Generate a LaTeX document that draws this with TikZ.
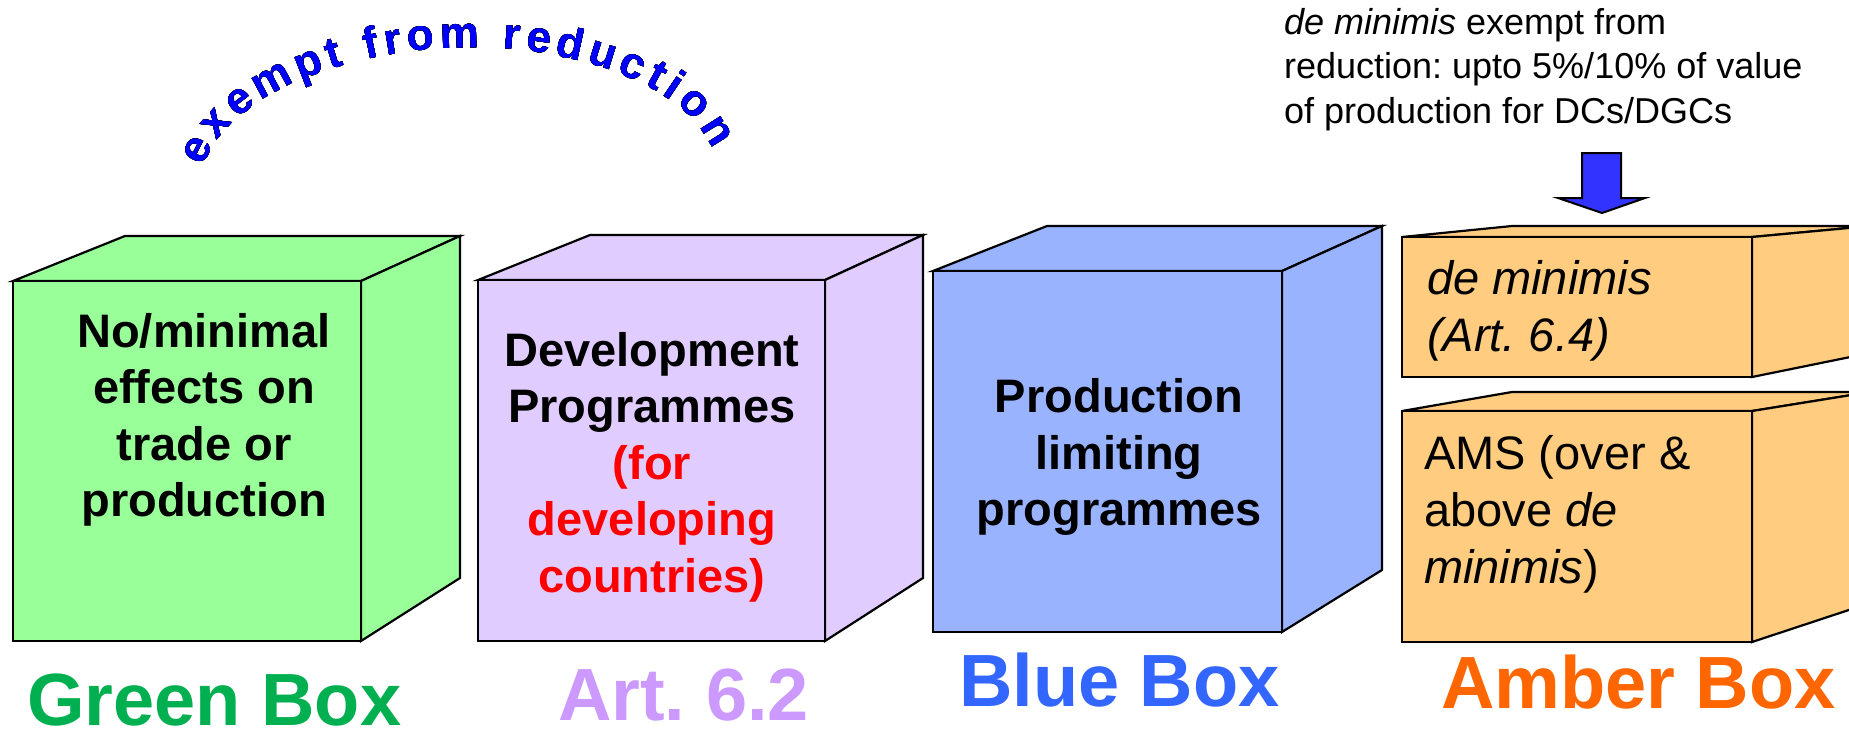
\documentclass[tikz,border=0pt]{standalone}
\usepackage{fontspec}
\setmainfont{Liberation Sans}
\frenchspacing
\definecolor{colorGreenFace}{HTML}{99FF99}
\definecolor{colorArtFace}{HTML}{E0CCFF}
\definecolor{colorBlueFace}{HTML}{99B3FF}
\definecolor{colorAmberFace}{HTML}{FFCC80}
\definecolor{colorGreenLabel}{HTML}{00B050}
\definecolor{colorArtLabel}{HTML}{CC99FF}
\definecolor{colorBlueLabel}{HTML}{3366FF}
\definecolor{colorAmberLabel}{HTML}{FF6600}
\definecolor{colorDev}{HTML}{FF0000}
\definecolor{colorArrow}{HTML}{3333FF}
\definecolor{colorArcText}{HTML}{0000FF}
\usetikzlibrary{decorations.text}
\tikzset{boxtext/.style={font=\bfseries\fontsize{23.5}{28.25}\selectfont, align=center, inner sep=0pt},
ambertext/.style={font=\fontsize{23.5}{28.5}\selectfont, align=left, inner sep=0pt, anchor=north west},
notetext/.style={font=\fontsize{18}{22.25}\selectfont, align=left, inner sep=0pt, anchor=north west},
boxlabel/.style={font=\bfseries\fontsize{37}{37}\selectfont, inner sep=0pt, anchor=base west},
arcword/.style={decorate, decoration={text along path, text align={fit to path}, text={|\color{#1}\bfseries\fontsize{22}{22}\selectfont|exempt from reduction}}}}

\begin{document}
\begin{tikzpicture}[x=0.5pt, y=-0.5pt, line width=1.1pt, line join=miter]
\clip (0,0) rectangle (1849,735);
\fill[white] (0,0) rectangle (1849,735);
% green box
\filldraw[fill=colorGreenFace] (13,281) -- (125,236) -- (460,236) -- (361,281) -- cycle;
\filldraw[fill=colorGreenFace] (361,281) -- (460,236) -- (460,578) -- (361,641) -- cycle;
\filldraw[fill=colorGreenFace] (13,281) rectangle (361,641);
% art. 6.2 box
\filldraw[fill=colorArtFace] (478,280) -- (590,235) -- (923,235) -- (825,280) -- cycle;
\filldraw[fill=colorArtFace] (825,280) -- (923,235) -- (923,578) -- (825,641) -- cycle;
\filldraw[fill=colorArtFace] (478,280) rectangle (825,641);
% blue box
\filldraw[fill=colorBlueFace] (933,271) -- (1047,226) -- (1382,226) -- (1282,271) -- cycle;
\filldraw[fill=colorBlueFace] (1282,271) -- (1382,226) -- (1382,570) -- (1282,632) -- cycle;
\filldraw[fill=colorBlueFace] (933,271) rectangle (1282,632);
% amber boxes
\filldraw[fill=colorAmberFace] (1402,237) -- (1512,226) -- (1870,226) -- (1752,237) -- cycle;
\filldraw[fill=colorAmberFace] (1752,237) -- (1870,226) -- (1870,353) -- (1752,377) -- cycle;
\filldraw[fill=colorAmberFace] (1402,237) rectangle (1752,377);
\filldraw[fill=colorAmberFace] (1402,411) -- (1512,392) -- (1870,392) -- (1752,411) -- cycle;
\filldraw[fill=colorAmberFace] (1752,411) -- (1870,392) -- (1870,603) -- (1752,642) -- cycle;
\filldraw[fill=colorAmberFace] (1402,411) rectangle (1752,642);

\node[boxtext] (greentext) at (204,420) {No/minimal\\effects on\\trade or\\production};
\node[boxtext] (arttext) at (652,467) {Development\\Programmes\\\textcolor{colorDev}{(for}\\\textcolor{colorDev}{developing}\\\textcolor{colorDev}{countries)}};
\node[boxtext] (bluetext) at (1119,457) {Production\\limiting\\programmes};
\node[ambertext] (demintext) at (1426,259) {\textit{de minimis}\\\textit{(Art. 6.4)}};
\node[ambertext] (amstext) at (1423,434) {AMS (over \&\\above \textit{de}\\\textit{minimis})};

\node[boxlabel, text=colorGreenLabel] (greenlabel) at (26,725) {Green Box};
\node[boxlabel, text=colorArtLabel] (artlabel) at (557,720) {Art. 6.2};
\node[boxlabel, text=colorBlueLabel] (bluelabel) at (958,706) {Blue Box};
\node[boxlabel, text=colorAmberLabel] (amberlabel) at (1440,708) {Amber Box};

\node[notetext] (note) at (1283,7) {\textit{de minimis} exempt from\\reduction: upto 5\%/10\% of value\\of production for DCs/DGCs};
\filldraw[fill=colorArrow, line width=1pt] (1582,153) -- (1621,153) -- (1621,198) -- (1645,198) -- (1602,213) -- (1558,198) -- (1582,198) -- cycle;

% curved heading, outlined by black copies
\coordinate (arcc) at (459,187);
\begin{scope}[rotate around={2:(arcc)}]
\foreach \dx/\dy in {1.6/0, -1.6/0, 0/1.6, 0/-1.6, 1.1/1.1, 1.1/-1.1, -1.1/1.1, -1.1/-1.1}
  \path[arcword=black, shift={(\dx,\dy)}] ([shift={(192:261 and 139)}]arcc) arc[start angle=192, end angle=348, x radius=261, y radius=139];
\path[arcword=colorArcText] ([shift={(192:261 and 139)}]arcc) arc[start angle=192, end angle=348, x radius=261, y radius=139];
\end{scope}
\end{tikzpicture}
\end{document}
